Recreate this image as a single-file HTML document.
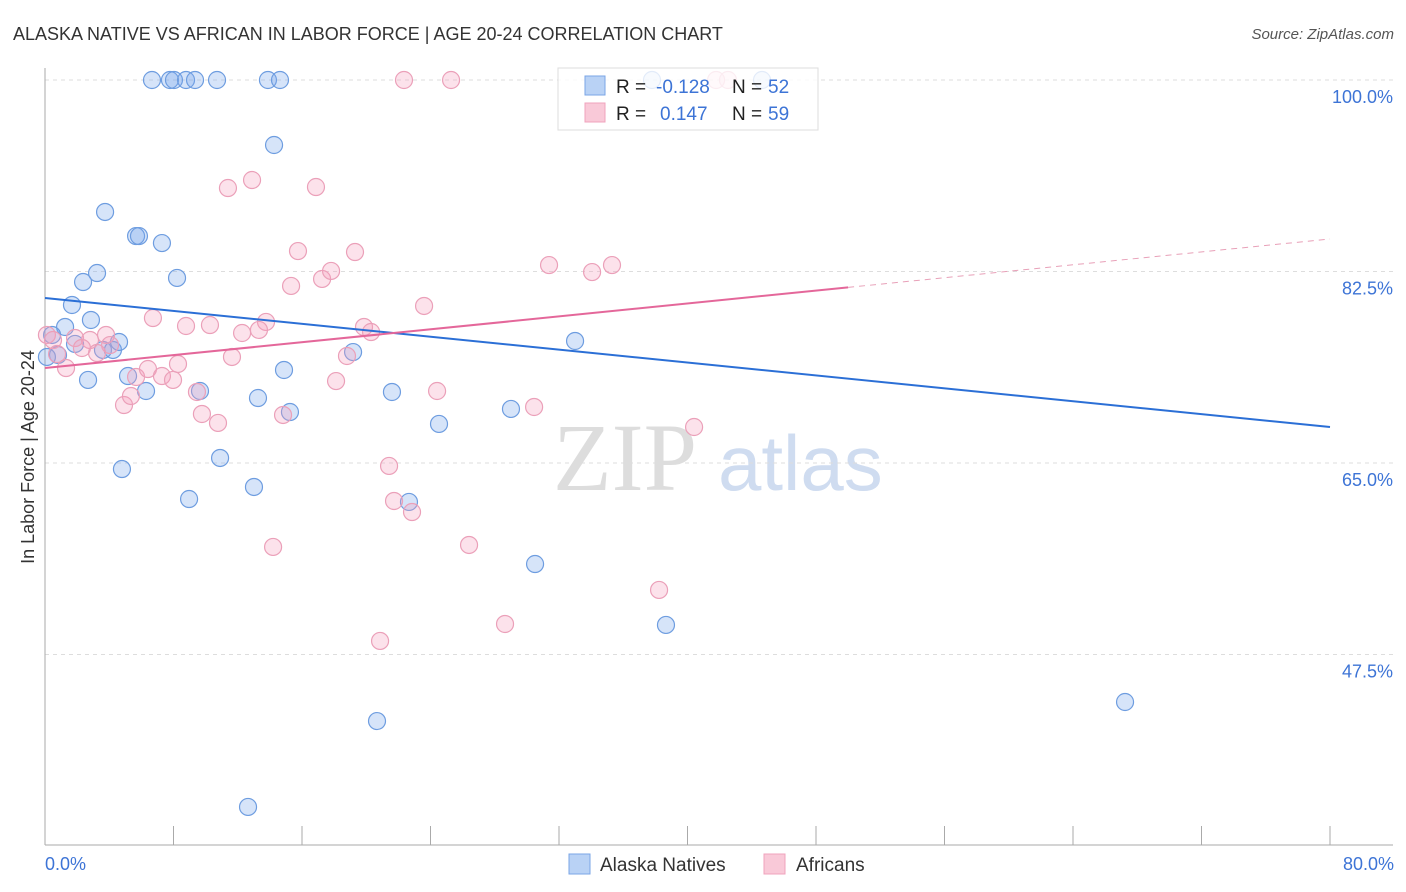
<!DOCTYPE html>
<html><head><meta charset="utf-8"><style>
body{margin:0;background:#fff;font-family:"Liberation Sans",sans-serif;}
</style></head><body>
<svg id="chart" width="1406" height="892" xmlns="http://www.w3.org/2000/svg" style="display:block">
<text x="13" y="40" font-size="18" fill="#333">ALASKA NATIVE VS AFRICAN IN LABOR FORCE | AGE 20-24 CORRELATION CHART</text>
<text x="1394" y="39" font-size="15" fill="#555" text-anchor="end" font-style="italic">Source: ZipAtlas.com</text>
<g><text x="553" y="490" font-size="96" fill="#ddd" font-family="Liberation Serif,serif">ZIP</text><text x="718" y="490" font-size="78" fill="#cfdcf0">atlas</text></g>
<g id="grid"></g><g id="axes"></g><g id="pts"></g><g id="lines"></g>
<text transform="translate(34,457) rotate(-90)" font-size="18" fill="#333" text-anchor="middle">In Labor Force | Age 20-24</text>
<text x="45" y="870" font-size="18" fill="#3d74d6">0.0%</text>
<text x="1394" y="870" font-size="18" fill="#3d74d6" text-anchor="end">80.0%</text>
<g>
<rect x="558" y="68" width="260" height="62" fill="rgba(255,255,255,0.8)" stroke="#ddd"/>
<rect x="585" y="76" width="20" height="19" fill="#b9d2f5" stroke="#7aa5e6"/>
<rect x="585" y="103" width="20" height="19" fill="#f9c9d8" stroke="#f0a3bd"/>
<text x="616" y="93" font-size="19" fill="#222">R =</text><text x="656" y="93" font-size="19" fill="#3d74d6">-0.128</text>
<text x="732" y="93" font-size="19" fill="#222">N =</text><text x="768" y="93" font-size="19" fill="#3d74d6">52</text>
<text x="616" y="120" font-size="19" fill="#222">R =</text><text x="660" y="120" font-size="19" fill="#3d74d6">0.147</text>
<text x="732" y="120" font-size="19" fill="#222">N =</text><text x="768" y="120" font-size="19" fill="#3d74d6">59</text>
</g>
<g><rect x="569" y="854" width="21" height="20" fill="#b9d2f5" stroke="#7aa5e6"/><text x="600" y="871" font-size="19" fill="#333">Alaska Natives</text></g>
<g><rect x="764" y="854" width="21" height="20" fill="#f9c9d8" stroke="#f0a3bd"/><text x="796" y="871" font-size="19" fill="#333">Africans</text></g>
</svg>
<script>
const yTicks=[100,82.5,65,47.5];
const yTickLabels=["100.0%","82.5%","65.0%","47.5%"];
const blueX=[6.66,7.78,8.03,8.78,9.34,10.71,13.88,14.63,37.79,44.64,14.26,3.74,5.67,5.85,7.28,3.24,2.37,8.22,1.68,2.86,1.25,0.44,0.81,0.12,1.87,3.61,4.23,4.61,5.17,2.68,6.29,9.65,13.26,14.88,15.25,21.6,19.18,33.0,29.01,24.53,4.79,10.9,8.97,13.01,22.66,30.51,38.66,20.67,67.24,12.64];
const blueY=[100,100,100,100,100,100,100,100,100,100,94.06,87.94,85.74,85.74,85.1,82.36,81.54,81.91,79.44,78.07,77.43,76.7,74.87,74.69,75.88,75.33,75.33,76.06,72.95,72.59,71.58,71.58,70.94,73.5,69.66,71.49,75.14,76.15,69.94,68.57,64.45,65.46,61.71,62.81,61.44,55.77,50.2,41.42,43.16,33.57];
const pinkX=[22.35,25.28,41.78,42.52,11.39,12.89,16.87,15.75,19.3,15.32,17.25,17.81,23.6,31.38,34.06,35.3,6.72,8.78,10.27,13.76,12.27,13.32,19.86,20.3,0.12,0.5,1.87,2.8,3.8,4.05,2.3,3.24,0.75,1.31,5.67,6.41,7.28,7.97,8.28,11.64,18.8,18.12,4.92,5.35,9.46,9.77,10.77,14.82,24.41,30.45,40.41,21.42,21.73,22.85,14.2,26.4,28.64,20.86,38.23];
const pinkY=[100,100,100,100,90.13,90.86,90.22,84.37,84.28,81.18,81.82,82.55,79.35,83.09,82.45,83.09,78.25,77.52,77.61,77.89,76.88,77.16,77.43,76.97,76.7,76.24,76.42,76.24,76.7,75.78,75.51,75.05,74.96,73.68,72.86,73.59,72.95,72.59,74.05,74.69,74.78,72.49,70.3,71.12,71.49,69.48,68.66,69.39,71.58,70.12,68.29,64.73,61.53,60.52,57.33,57.51,50.29,48.74,53.4];
const blueTrend=[80.08,68.29];
const pinkTrend=[73.68,85.47];
const pinkSolidEnd=50;
const NS="http://www.w3.org/2000/svg";
const sx=v=>45+v/80*1285;
const sy=v=>80+(100-v)*10.943;
function mk(tag,parent,attrs){const e=document.createElementNS(NS,tag);for(const k in attrs)e.setAttribute(k,attrs[k]);document.getElementById(parent).appendChild(e);return e;}
yTicks.forEach((t,i)=>{
 const g=mk('line','grid',{x1:45,x2:1393,y1:sy(t),y2:sy(t),stroke:'#ddd','stroke-dasharray':'4,4'});
 
 
 const tx=mk('text','grid',{x:1393,y:sy(t)+23,'font-size':18,fill:'#3d74d6','text-anchor':'end'});
 tx.textContent=yTickLabels[i];
 
 
});
const ax=mk('line','axes',{x1:45,x2:45,y1:68,y2:845,stroke:'#aaa'});


const bx=mk('line','axes',{x1:45,x2:1393,y1:845,y2:845,stroke:'#aaa'});


for(let i=0;i<=10;i++){const t=mk('line','axes',{x1:sx(i*8),x2:sx(i*8),y1:826,y2:845,stroke:'#aaa'});
 
 }
blueX.forEach((x,i)=>{const c=mk('circle','pts',{cx:sx(x),cy:sy(blueY[i]),r:8.5,fill:'rgba(120,165,235,0.3)',stroke:'#6e9de0','stroke-width':1.2});
 
 });
pinkX.forEach((x,i)=>{const c=mk('circle','pts',{cx:sx(x),cy:sy(pinkY[i]),r:8.5,fill:'rgba(245,160,190,0.3)',stroke:'#eba0b9','stroke-width':1.2});
 
 });
const bl=mk('line','lines',{x1:sx(0),y1:sy(blueTrend[0]),x2:sx(80),y2:sy(blueTrend[1]),stroke:'#2b6fd6','stroke-width':2});


const pm=pinkTrend[0]+(pinkTrend[1]-pinkTrend[0])*pinkSolidEnd/80;
const pl=mk('line','lines',{x1:sx(0),y1:sy(pinkTrend[0]),x2:sx(pinkSolidEnd),y2:sy(pm),stroke:'#e4679a','stroke-width':2});


const pd=mk('line','lines',{x1:sx(pinkSolidEnd),y1:sy(pm),x2:sx(80),y2:sy(pinkTrend[1]),stroke:'#e8a0b8','stroke-width':1,'stroke-dasharray':'6,5'});


</script>
</body></html>
